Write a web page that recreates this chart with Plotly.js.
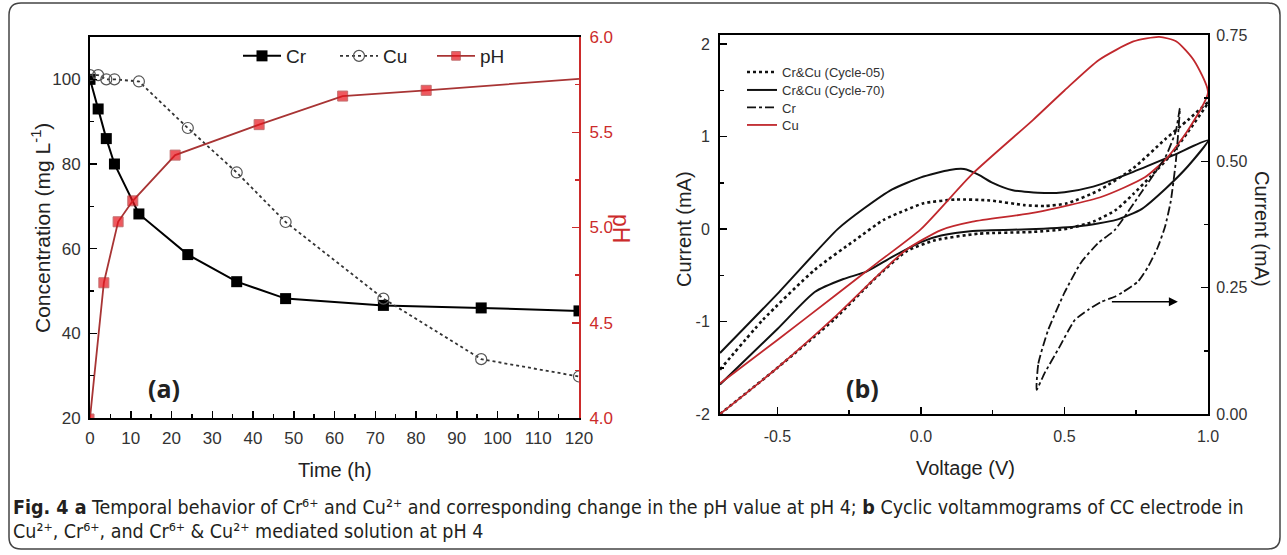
<!DOCTYPE html>
<html>
<head>
<meta charset="utf-8">
<script src="https://cdn.plot.ly/plotly-3.0.1.min.js"></script>
<style>
html,body{margin:0;padding:0;background:#fff;}
#chart{width:1287px;height:555px;}
</style>
</head>
<body>
<div id="chart"></div>
<script>
// ---------- Panel (a) data ----------
var timeH = [0, 2, 4, 6, 12, 24, 36, 48, 72, 96, 120];
var crConc = [100, 93, 86, 80, 68.2, 58.6, 52.2, 48.2, 46.6, 46, 45.3];
var cuConc = [101, 101, 100, 100, 99.5, 88.5, 78, 66.3, 48.2, 33.9, 29.8];
var phTime = [0, 3.4, 6.9, 10.5, 20.9, 41.5, 62, 82.5, 120];
var phValue = [4.0, 4.71, 5.03, 5.14, 5.38, 5.54, 5.69, 5.72, 5.78];
var phMarkerSize = [8, 10, 10, 10, 10, 10, 10, 10, 0];

// ---------- Panel (b) data ----------
var cyc05V = [-0.70,-0.55,-0.37,-0.23,-0.13,-0.05,0.01,0.12,0.24,0.36,0.43,0.51,0.62,0.74,0.85,0.93,1.00,
              0.93,0.87,0.80,0.74,0.68,0.60,0.50,0.39,0.20,0.05,-0.05,-0.165,-0.30,-0.50,-0.70];
var cyc05I = [-1.52,-0.98,-0.44,-0.12,0.10,0.21,0.28,0.32,0.31,0.26,0.25,0.28,0.42,0.66,0.97,1.18,1.37,
              1.05,0.80,0.57,0.38,0.21,0.08,0.00,-0.03,-0.05,-0.12,-0.24,-0.55,-0.97,-1.50,-2.00];

var cyc70V = [-0.70,-0.50,-0.29,-0.20,-0.10,0.00,0.10,0.15,0.20,0.25,0.32,0.43,0.50,0.60,0.74,0.88,1.00,
              0.93,0.853,0.77,0.68,0.55,0.40,0.18,0.07,0.00,-0.10,-0.19,-0.27,-0.37,-0.50,-0.70];
var cyc70I = [-1.34,-0.70,0.00,0.22,0.43,0.56,0.64,0.65,0.59,0.50,0.42,0.39,0.40,0.46,0.62,0.80,0.96,
              0.68,0.44,0.22,0.10,0.03,0.00,-0.02,-0.07,-0.14,-0.30,-0.46,-0.54,-0.68,-1.08,-1.68];

var cuV = [-0.70,-0.50,-0.30,-0.15,0.00,0.18,0.39,0.50,0.62,0.74,0.83,0.89,0.95,1.00,
           0.93,0.86,0.78,0.63,0.40,0.18,0.07,-0.05,-0.15,-0.30,-0.50,-0.70];
var cuI = [-1.67,-1.20,-0.72,-0.36,0.00,0.60,1.18,1.50,1.83,2.03,2.08,2.03,1.83,1.48,
           1.07,0.78,0.56,0.35,0.18,0.08,-0.01,-0.22,-0.50,-0.95,-1.50,-2.00];

// Cr voltammogram (right axis)
var crV = [0.403,0.409,0.443,0.50,0.558,0.617,0.675,0.773,0.853,0.888,0.902,
           0.888,0.87,0.85,0.825,0.79,0.756,0.70,0.675,0.628,0.582,0.536,0.48,0.43,0.403];
var crI = [0.048,0.10,0.166,0.24,0.30,0.338,0.364,0.443,0.51,0.56,0.605,
           0.50,0.42,0.37,0.33,0.29,0.262,0.24,0.232,0.222,0.206,0.186,0.13,0.08,0.048];

// tick values and labels
var timeTicks = [0,10,20,30,40,50,60,70,80,90,100,110,120];
var concTicks = [20,40,60,80,100];
var phTicks = [4.0,4.5,5.0,5.5,6.0];
var phLabels = ['4.0','4.5','5.0','5.5','6.0'];
var voltTicks = [-0.5,0.0,0.5,1.0];
var voltLabels = ['-0.5','0.0','0.5','1.0'];
var currTicks = [-2,-1,0,1,2];
var currLabels = ['-2','-1','0','1','2'];
var currRTicks = [0,0.25,0.5,0.75];
var currRLabels = ['0.00','0.25','0.50','0.75'];

var RED = '#cc2b2b';
var FONT = 'Liberation Sans, Arial, sans-serif';
var CAPFONT = 'DejaVu Sans Condensed, Liberation Sans Narrow, sans-serif';
var W = 1287, H = 555;
function px(x){return x/W;}
function py(y){return 1 - y/H;}

var traces = [
  {x: timeH, y: crConc, name: 'Cr', xaxis:'x', yaxis:'y', type:'scatter', mode:'lines+markers',
   line:{color:'#000', width:2}, marker:{symbol:'square', size:11, color:'#000'}, legend:'legend'},
  {x: timeH, y: cuConc, name: 'Cu', xaxis:'x', yaxis:'y', type:'scatter', mode:'lines+markers',
   line:{color:'#333', width:1.8, dash:'dot'}, marker:{symbol:'circle-open', size:11, color:'#555', line:{width:1.2}}, legend:'legend'},
  {x: phTime, y: phValue, name: 'pH', xaxis:'x', yaxis:'y2', type:'scatter', mode:'lines+markers',
   line:{color:'#a83434', width:1.8}, marker:{symbol:'square', size:phMarkerSize, color:'#e8141c'}, legend:'legend'},

  {x: cyc05V, y: cyc05I, name: 'Cr&amp;Cu (Cycle-05)', xaxis:'x2', yaxis:'y3', type:'scatter', mode:'lines',
   line:{color:'#111', width:2.6, dash:'dot', shape:'spline', smoothing:0.6}, legend:'legend2'},
  {x: cyc70V, y: cyc70I, name: 'Cr&amp;Cu (Cycle-70)', xaxis:'x2', yaxis:'y3', type:'scatter', mode:'lines',
   line:{color:'#111', width:2, shape:'spline', smoothing:0.6}, legend:'legend3'},
  {x: crV, y: crI, name: 'Cr', xaxis:'x2', yaxis:'y4', type:'scatter', mode:'lines',
   line:{color:'#111', width:1.8, dash:'dashdot', shape:'spline', smoothing:0.5}, legend:'legend4'},
  {x: cuV, y: cuI, name: 'Cu', xaxis:'x2', yaxis:'y3', type:'scatter', mode:'lines',
   line:{color:'#c0282d', width:1.8, shape:'spline', smoothing:0.6}, legend:'legend5'}
];

var axBase = {showgrid:false, zeroline:false, showline:true, linewidth:2, linecolor:'#000',
  ticks:'inside', ticklen:7, tickwidth:1.5, tickcolor:'#000',
  tickfont:{family:FONT, size:17, color:'#333'}};

function ax(o){ var r = JSON.parse(JSON.stringify(axBase)); for (var k in o) r[k]=o[k]; return r; }

function ann(x, y, text, size, color, angle, family){
  return {xref:'paper', yref:'paper', x:px(x), y:py(y), xanchor:'center', yanchor:'middle',
    text:text, textangle:angle||0, showarrow:false,
    font:{family:family||FONT, size:size, color:color||'#222'}};
}

function legB(y){
  return {x:px(742), y:py(y), xanchor:'left', yanchor:'middle', bgcolor:'rgba(0,0,0,0)',
    font:{family:FONT, size:13, color:'#333'}, itemwidth:30, borderwidth:0};
}

var layout = {
  width: W, height: H,
  margin:{l:0,r:0,t:0,b:0},
  paper_bgcolor:'#fff', plot_bgcolor:'rgba(0,0,0,0)',
  font:{family:FONT, color:'#222'},
  xaxis: ax({domain:[px(90), px(579)], anchor:'y', range:[0,120], tickvals:timeTicks, mirror:true,
    ticklabelstandoff:4,
    minor:{dtick:5, ticks:'inside', ticklen:4, tickwidth:1.5, tickcolor:'#000'}}),
  yaxis: ax({domain:[py(418), py(37)], anchor:'x', range:[20,110], tickvals:concTicks,
    ticklabelstandoff:4,
    minor:{dtick:10, ticks:'inside', ticklen:4, tickwidth:1.5, tickcolor:'#000'}}),
  yaxis2: ax({overlaying:'y', side:'right', anchor:'x', range:[4,6], tickvals:phTicks, ticktext:phLabels,
    ticklabelstandoff:5,
    linecolor:RED, tickcolor:RED, tickfont:{family:FONT, size:17, color:RED},
    minor:{dtick:0.25, ticks:'inside', ticklen:4, tickwidth:1.5, tickcolor:RED}}),
  xaxis2: ax({domain:[px(720), px(1208)], anchor:'y3', range:[-0.7,1.0], tickvals:voltTicks, ticktext:voltLabels, mirror:true,
    ticklabelstandoff:7,
    tickfont:{family:FONT, size:16, color:'#333'},
    minor:{tickvals:[-0.25,0.25,0.75], ticks:'inside', ticklen:4, tickwidth:1.5, tickcolor:'#000'}}),
  yaxis3: ax({domain:[py(414), py(35)], anchor:'x2', range:[-2,2.1], tickvals:currTicks, ticktext:currLabels,
    ticklabelstandoff:5,
    tickfont:{family:FONT, size:16, color:'#333'},
    minor:{tickvals:[-1.5,-0.5,0.5,1.5], ticks:'inside', ticklen:4, tickwidth:1.5, tickcolor:'#000'}}),
  yaxis4: ax({overlaying:'y3', side:'right', anchor:'x2', range:[0,0.75], tickvals:currRTicks, ticktext:currRLabels,
    ticklabelstandoff:3,
    tickfont:{family:FONT, size:16, color:'#333'},
    minor:{tickvals:[0.125,0.375,0.625], ticks:'inside', ticklen:4, tickwidth:1.5, tickcolor:'#000'}}),
  legend: {orientation:'h', x:px(238), y:py(56), xanchor:'left', yanchor:'middle',
    bgcolor:'rgba(0,0,0,0)', font:{family:FONT, size:19, color:'#222'}, entrywidth:44, entrywidthmode:'pixels',
    itemwidth:38, traceorder:'normal'},
  legend2: legB(72),
  legend3: legB(90),
  legend4: legB(107.5),
  legend5: legB(125),
  showlegend:true,
  annotations:[
    ann(41, 228, 'Concentration (mg L<sup>-1</sup>)', 21, '#222', -90),
    ann(335, 470, 'Time (h)', 20),
    ann(621, 228, 'pH', 23, RED, 90),
    ann(164, 388, '<b>(a)</b>', 25, '#222', 0, 'Open Sans, sans-serif'),
    ann(684, 229, 'Current (mA)', 20, '#222', -90),
    ann(1262, 229, 'Current (mA)', 20, '#222', 90),
    ann(965, 468, 'Voltage (V)', 20),
    ann(862, 388, '<b>(b)</b>', 25, '#222', 0, 'Open Sans, sans-serif'),
    {xref:'x2', yref:'y4', x:0.895, y:0.222, ax:0.66, ay:0.222, axref:'x2', ayref:'y4', text:'',
     showarrow:true, arrowhead:2, arrowsize:1.2, arrowwidth:1.5, arrowcolor:'#000'},
    {xref:'paper', yref:'paper', x:px(11), y:py(507), xanchor:'left', yanchor:'middle', showarrow:false, align:'left',
     text:'<b>Fig. 4 a</b> Temporal behavior of Cr⁶⁺ and Cu²⁺ and corresponding change in the pH value at pH 4; <b>b</b> Cyclic voltammograms of CC electrode in',
     font:{family:CAPFONT, size:19.5, color:'#231f20'}},
    {xref:'paper', yref:'paper', x:px(11), y:py(531), xanchor:'left', yanchor:'middle', showarrow:false, align:'left',
     text:'Cu²⁺, Cr⁶⁺, and Cr⁶⁺ &amp; Cu²⁺ mediated solution at pH 4',
     font:{family:CAPFONT, size:19.5, color:'#231f20'}}
  ],
  shapes:[
    (function(){
      var x0=px(9), x1=px(1280), yt=py(3), yb=py(549), rx=px(12), ry=12/H;
      var p = 'M'+(x0+rx)+','+yt+' L'+(x1-rx)+','+yt+' Q'+x1+','+yt+' '+x1+','+(yt-ry)+
              ' L'+x1+','+(yb+ry)+' Q'+x1+','+yb+' '+(x1-rx)+','+yb+
              ' L'+(x0+rx)+','+yb+' Q'+x0+','+yb+' '+x0+','+(yb+ry)+
              ' L'+x0+','+(yt-ry)+' Q'+x0+','+yt+' '+(x0+rx)+','+yt+' Z';
      return {type:'path', xref:'paper', yref:'paper', path:p, line:{color:'#444', width:1.5}};
    })()
  ]
};

Plotly.newPlot('chart', traces, layout, {staticPlot:true, displayModeBar:false});
</script>
</body>
</html>
